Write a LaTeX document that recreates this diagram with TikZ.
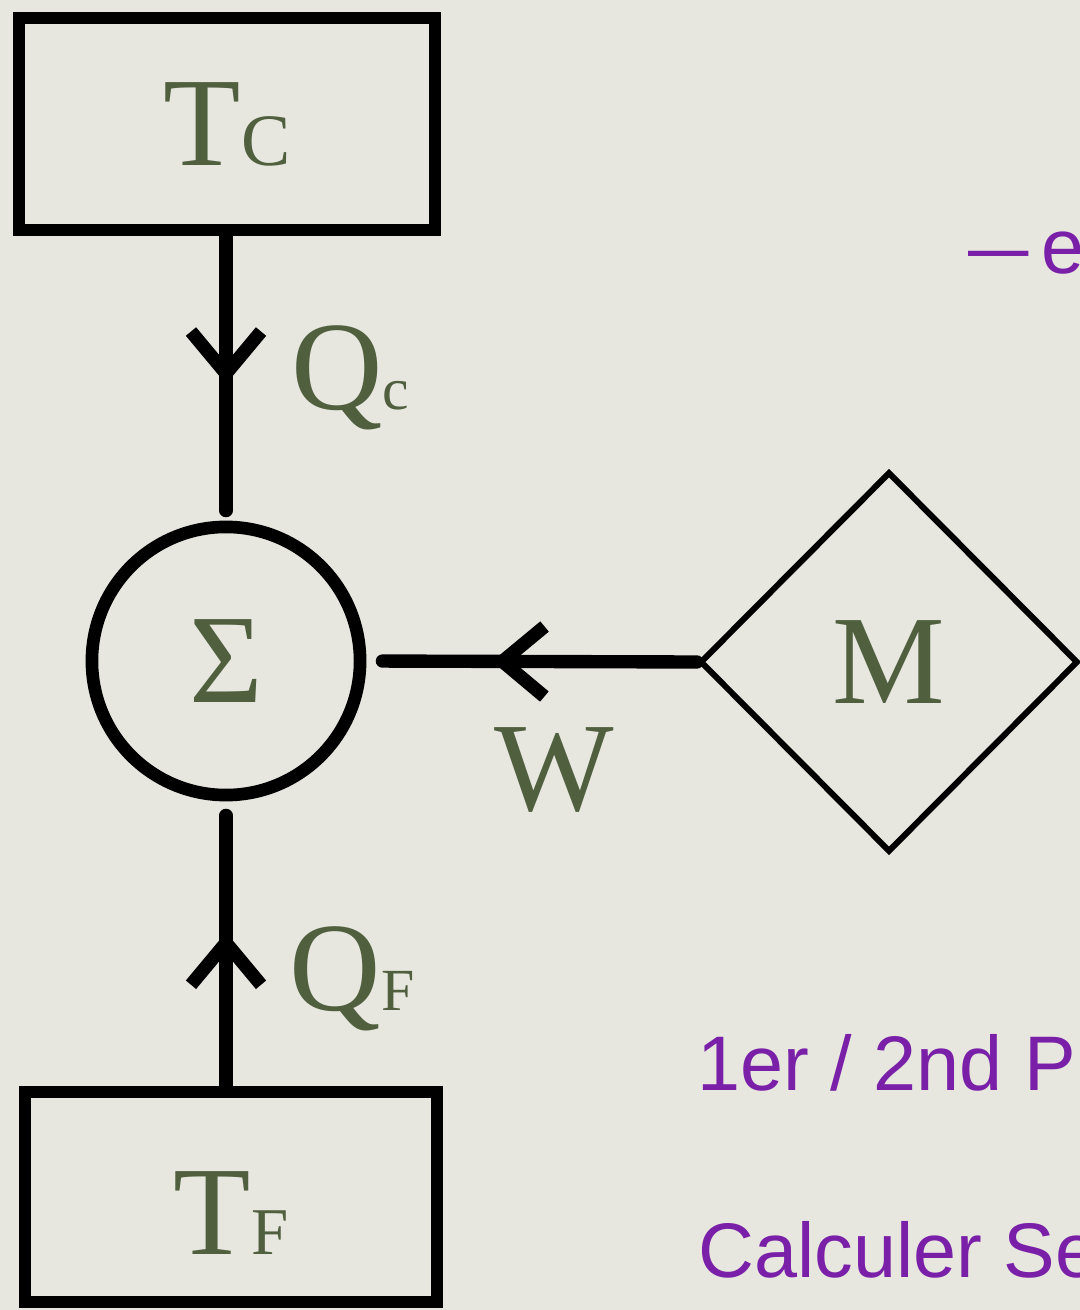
\documentclass[tikz,border=0pt]{standalone}
\usepackage{fontspec}
\setmainfont{Liberation Serif}
\newfontfamily\notefont{Liberation Sans}
\definecolor{paper}{RGB}{231,231,224}
\definecolor{darkolive}{RGB}{80,95,62}
\definecolor{notepurple}{RGB}{122,32,168}
\usetikzlibrary{arrows.meta,shapes.geometric,decorations.markings}
\newcommand{\idx}[2]{{\fontsize{#1}{#1}\selectfont #2}}

\begin{document}
\begin{tikzpicture}[x=0.01cm, y=-0.01cm,
    symbol/.style={text=darkolive, font=\fontsize{36}{40}\selectfont},
    reservoir/.style={draw, line width=3.4pt, minimum width=4.15cm, minimum height=2.12cm, inner sep=0pt, symbol},
    system/.style={draw, circle, line width=3.6pt, minimum size=2.68cm, inner sep=0pt, symbol},
    engine/.style={draw, diamond, line width=1.7pt, minimum width=3.78cm, minimum height=3.8cm, inner sep=0pt, symbol},
    flow/.style={line width=3.8pt, line cap=round, postaction={decorate},
        decoration={markings, mark=at position #1 with {\arrow{Straight Barb[length=4.2mm, width=7mm]}}}},
    note/.style={text=notepurple, font=\notefont\fontsize{22}{26}\selectfont, anchor=base west, inner sep=0pt}]
    \useasboundingbox (0,0) rectangle (1080,1310);
    \clip (0,0) rectangle (1080,1310);
    \fill[paper] (0,0) rectangle (1080,1310);

    % reservoirs, system, engine
    \node[reservoir] (Tc) at (227,124) {T\idx{21}{C}};
    \node[reservoir, minimum width=4.12cm, minimum height=2.1cm,
        label={[symbol, yshift=-1.6mm]center:T\idx{19}{F}}] (Tf) at (231,1197) {};
    \node[system] (S) at (226,661) {Σ};
    \node[engine] (M) at (889,662) {M};

    % transfers
    \draw[flow=0.52, shorten >=1mm] (Tc.south -| S.north) -- (S.north);
    \draw[flow=0.54, shorten >=1.4mm] (Tf.north -| S.south) -- (S.south);
    \draw[flow=0.62, shorten >=1.6mm] (M.west) -- (S.east);
    \node[symbol, anchor=base] (qc) at (350,410) {Q\idx{17}{c}};
    \node[symbol, anchor=base] (qf) at (352,1010) {Q\idx{17}{F}};
    \node[symbol, anchor=base] (w) at (554,810) {W};

    % notes
    \node[note] (eq) at (968,274) {\scalebox{0.78}[1]{—}\hspace{1.2mm}e};
    \node[note] (law) at (697,1090) {1er / 2nd P};
    \node[note] (calc) at (698,1277) {Calculer Se};
\end{tikzpicture}
\end{document}
